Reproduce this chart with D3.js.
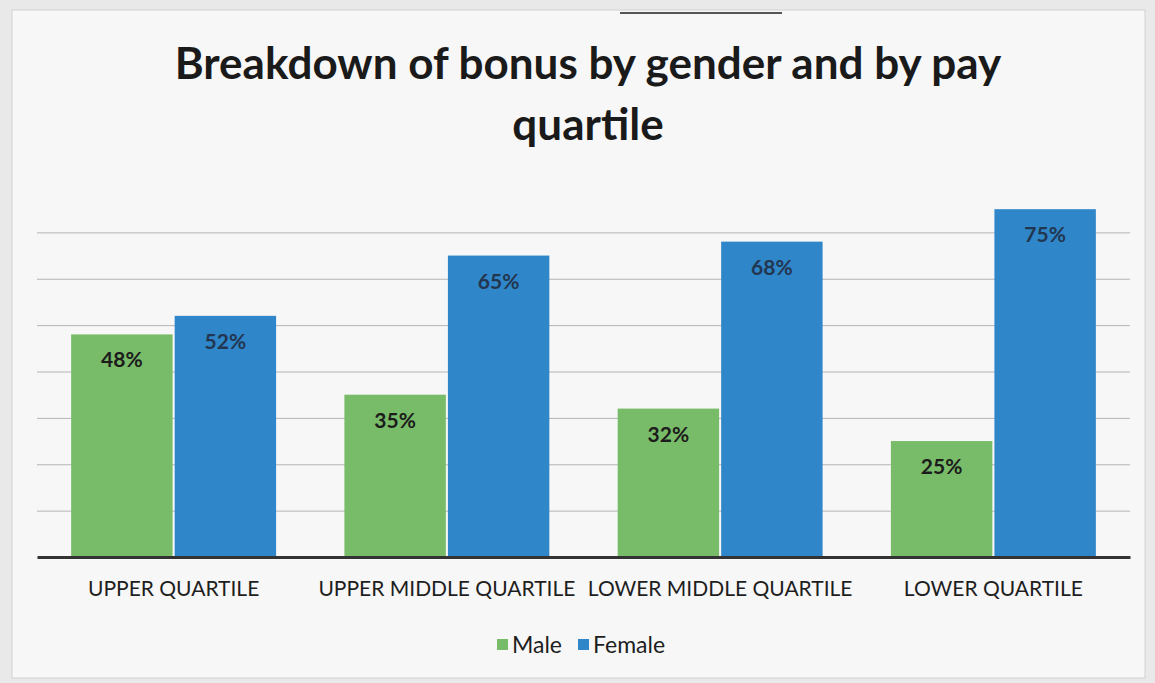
<!DOCTYPE html>
<html>
<head>
<meta charset="utf-8">
<script src="https://cdn.jsdelivr.net/npm/d3@7"></script>
<style>
  body { margin: 0; background: #e9e9e9; }
  svg { display: block; }
</style>
</head>
<body>
<div id="chart"></div>
<script>
// data
const quartiles = ['UPPER QUARTILE', 'UPPER MIDDLE QUARTILE', 'LOWER MIDDLE QUARTILE', 'LOWER QUARTILE'];
const seriesNames = ['Male', 'Female'];
const maleValues = [0.48, 0.35, 0.32, 0.25];
const femaleValues = [0.52, 0.65, 0.68, 0.75];
const gridTicks = [0.1, 0.2, 0.3, 0.4, 0.5, 0.6, 0.7];
const colors = ['#78bb68', '#2f86c9'];

const W = 1155, H = 683;
const margin = { top: 186, right: 25, bottom: 126, left: 37 };
const width = W - margin.left - margin.right;
const height = H - margin.top - margin.bottom;

const svg = d3.select('#chart').append('svg')
  .attr('width', W)
  .attr('height', H);

// chart panel
svg.append('rect')
  .attr('x', 12).attr('y', 10)
  .attr('width', 1133).attr('height', 668)
  .attr('fill', '#f7f7f7')
  .attr('stroke', '#d2d2d2');
svg.append('line')
  .attr('x1', 620).attr('x2', 782).attr('y1', 13).attr('y2', 13)
  .attr('stroke', '#555').attr('stroke-width', 2);

// title
const title = svg.append('text')
  .attr('x', 588)
  .attr('text-anchor', 'middle')
  .style('font-family', 'Lato, sans-serif')
  .style('font-weight', 'bold')
  .style('font-size', '44px')
  .attr('fill', '#1a1a1a');
title.append('tspan').attr('x', 588).attr('y', 79).text('Breakdown of bonus by gender and by pay');
title.append('tspan').attr('x', 588).attr('y', 140).text('quartile');

const g = svg.append('g')
  .attr('transform', `translate(${margin.left},${margin.top})`);

const x0 = d3.scaleBand()
  .domain(quartiles)
  .range([0, width])
  .paddingInner(0.25)
  .paddingOuter(0.125);

const x1 = d3.scaleBand()
  .domain(seriesNames)
  .range([0, x0.bandwidth()])
  .paddingInner(0.02);

const y = d3.scaleLinear()
  .domain([0, 0.8])
  .range([height, 0]);

// gridlines
g.append('g')
  .call(d3.axisLeft(y).tickValues(gridTicks).tickSize(-width).tickFormat(''))
  .call(a => a.select('.domain').remove())
  .call(a => a.selectAll('line').attr('stroke', '#b4b4b4'));

const rows = quartiles.map((q, i) => ({ q, values: [maleValues[i], femaleValues[i]] }));

const groups = g.selectAll('g.grp')
  .data(rows)
  .enter().append('g')
  .attr('class', 'grp')
  .attr('transform', d => `translate(${x0(d.q)},0)`);

groups.selectAll('rect')
  .data(d => d.values.map((v, j) => ({ name: seriesNames[j], v, j })))
  .enter().append('rect')
  .attr('x', d => x1(d.name))
  .attr('y', d => y(d.v))
  .attr('width', x1.bandwidth())
  .attr('height', d => height - y(d.v))
  .attr('fill', d => colors[d.j]);

groups.selectAll('text.val')
  .data(d => d.values.map((v, j) => ({ name: seriesNames[j], v, j })))
  .enter().append('text')
  .attr('class', 'val')
  .attr('x', d => x1(d.name) + x1.bandwidth() / 2)
  .attr('y', d => y(d.v) + 33)
  .attr('text-anchor', 'middle')
  .style('font-family', 'Lato, sans-serif')
  .style('font-weight', 'bold')
  .style('font-size', '21px')
  .attr('fill', d => d.j === 0 ? '#1c1c1c' : '#233650')
  .text(d => d3.format('.0%')(d.v));

// x axis
const xAxis = g.append('g')
  .attr('transform', `translate(0,${height})`)
  .call(d3.axisBottom(x0).tickSize(0).tickPadding(24));
xAxis.select('.domain').attr('stroke', '#333').attr('stroke-width', 3);
xAxis.selectAll('text')
  .style('font-family', 'Lato, sans-serif')
  .style('font-size', '21px')
  .attr('fill', '#1e1e1e');

// legend
const legend = svg.append('g').attr('transform', 'translate(497,645)');
const items = legend.selectAll('g')
  .data(seriesNames)
  .enter().append('g')
  .attr('transform', (d, i) => `translate(${i * 81},0)`);
items.append('rect')
  .attr('x', 0).attr('y', -6)
  .attr('width', 11).attr('height', 11)
  .attr('fill', (d, i) => colors[i]);
items.append('text')
  .attr('x', 15).attr('y', 8)
  .style('font-family', 'Lato, sans-serif')
  .style('font-size', '23px')
  .attr('fill', '#1e1e1e')
  .text(d => d);
</script>
</body>
</html>
